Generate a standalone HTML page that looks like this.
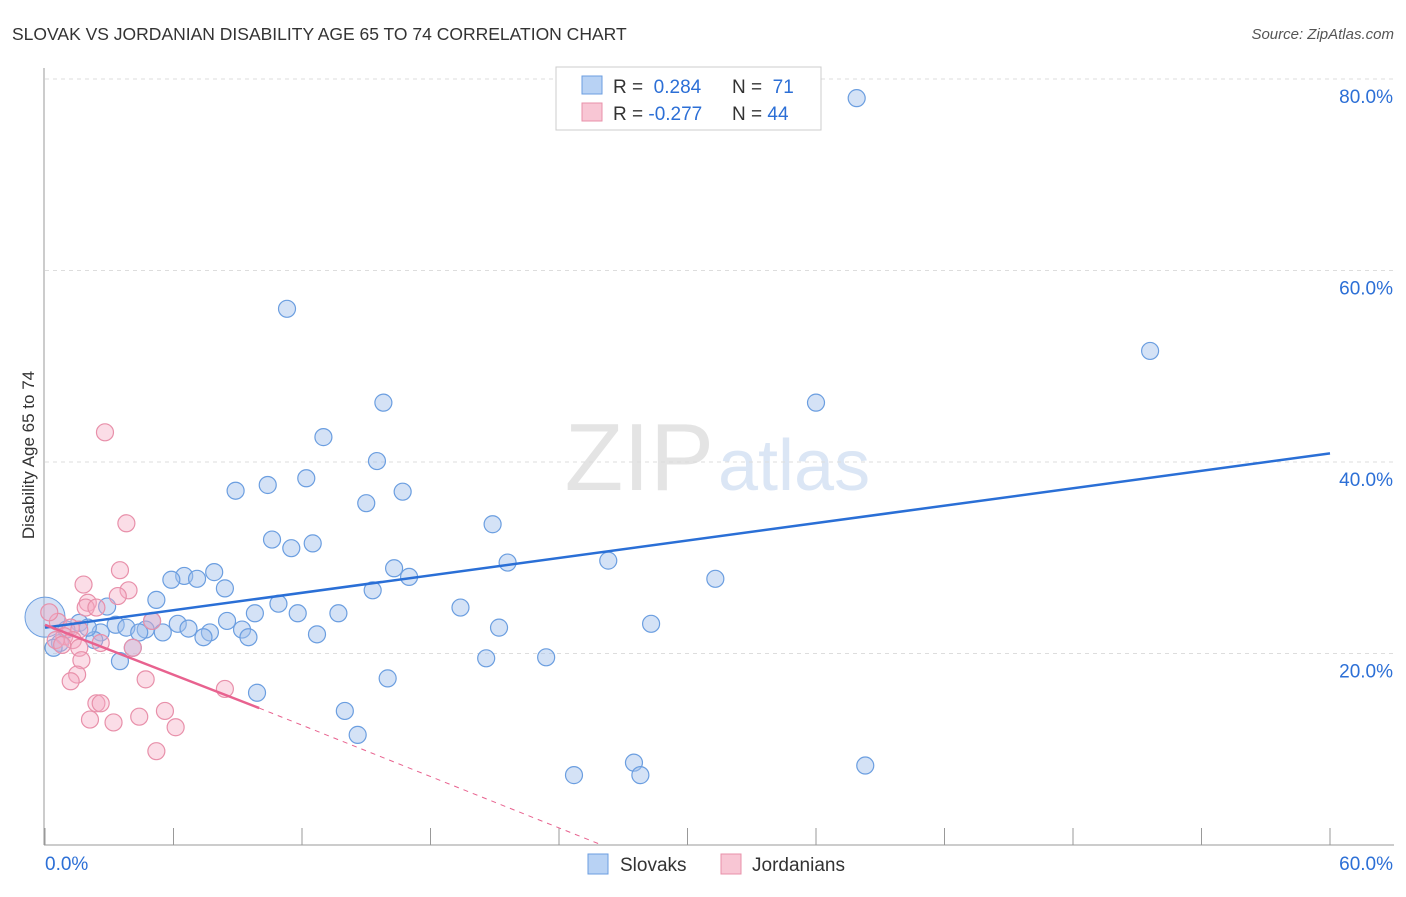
<!DOCTYPE html>
<html><head><meta charset="utf-8"><style>
body{margin:0;background:#fff;font-family:"Liberation Sans",sans-serif;}
svg text{font-family:"Liberation Sans",sans-serif;}
</style></head><body>
<svg width="1406" height="892">
<text x="12" y="40" font-size="17.5" fill="#333">SLOVAK VS JORDANIAN DISABILITY AGE 65 TO 74 CORRELATION CHART</text>
<text x="1394" y="39" font-size="15" fill="#555" font-style="italic" text-anchor="end">Source: ZipAtlas.com</text>
<text x="714" y="490" font-size="96" fill="#e4e4e4" font-family="Liberation Serif" text-anchor="end">ZIP</text>
<text x="718" y="490" font-size="72" fill="#dbe6f5">atlas</text>
<g id="grid"></g>
<g id="axes"></g>
<g id="marks"></g>
<text transform="translate(34,455) rotate(-90)" font-size="17" fill="#333" text-anchor="middle">Disability Age 65 to 74</text>
<g>
<rect x="556" y="67" width="265" height="63" fill="#fff" stroke="#ccc"/>
<rect x="582" y="76" width="20" height="18" fill="#b8d2f4" stroke="#6b9ee0"/>
<rect x="582" y="103" width="20" height="18" fill="#f8c6d4" stroke="#e890aa"/>
<text x="613" y="93" font-size="19" fill="#333">R = <tspan fill="#2c6fd6">&#160;0.284</tspan><tspan x="732">N = </tspan><tspan fill="#2c6fd6">&#160;71</tspan></text>
<text x="613" y="120" font-size="19" fill="#333">R = <tspan fill="#2c6fd6">-0.277</tspan><tspan x="732">N = </tspan><tspan fill="#2c6fd6">44</tspan></text>
</g>
<g>
<rect x="588" y="854" width="20" height="20" fill="#b8d2f4" stroke="#6b9ee0"/>
<text x="620" y="871" font-size="19" fill="#333">Slovaks</text>
<rect x="721" y="854" width="20" height="20" fill="#f8c6d4" stroke="#e890aa"/>
<text x="752" y="871" font-size="19" fill="#333">Jordanians</text>
</g>
</svg>
<script>
const xTicks=[0,6,12,18,24,30,36,42,48,54,60];
const xLabels=[0,60];
const yTicks=[20,40,60,80];
const slovakX=[37.9,11.3,51.6,36.0,15.8,13.0,15.5,12.2,10.4,8.9,16.7,15.0,20.9,10.6,12.5,11.5,26.3,21.6,16.3,17.0,31.3,7.9,6.5,5.9,7.1,8.4,15.3,5.2,10.9,2.9,19.4,11.8,9.8,13.7,5.0,8.5,6.2,1.6,28.3,6.7,3.3,3.8,4.7,21.2,7.7,9.2,5.5,4.4,12.7,2.6,7.4,9.5,2.3,0.7,0.4,4.1,20.6,23.4,3.5,16.0,9.9,14.0,14.6,24.7,27.5,27.8,38.3,2.0,1.0];
const slovakY=[78.0,56.0,51.6,46.2,46.2,42.6,40.1,38.3,37.6,37.0,36.9,35.7,33.5,31.9,31.5,31.0,29.7,29.5,28.9,28.0,27.8,28.5,28.1,27.7,27.8,26.8,26.6,25.6,25.2,24.9,24.8,24.2,24.2,24.2,23.4,23.4,23.1,23.2,23.1,22.6,23.0,22.7,22.5,22.7,22.2,22.5,22.2,22.2,22.0,22.2,21.7,21.7,21.4,21.1,20.6,20.6,19.5,19.6,19.2,17.4,15.9,14.0,11.5,7.3,8.6,7.3,8.3,22.7,22.5];
const jordX=[2.8,3.8,1.8,3.5,3.9,3.4,2.0,1.9,2.4,5.0,0.6,1.2,1.6,0.9,1.3,2.6,1.6,4.1,1.7,1.5,1.2,4.7,8.4,2.4,2.6,5.6,2.1,3.2,4.4,6.1,5.2,0.5,0.8,0.2];
const jordY=[43.1,33.6,27.2,28.7,26.6,26.0,25.3,24.8,24.8,23.4,23.3,22.7,22.5,21.8,21.4,21.1,20.6,20.6,19.3,17.8,17.1,17.3,16.3,14.8,14.8,14.0,13.1,12.8,13.4,12.3,9.8,21.4,20.9,24.3];
const blueTrend=[22.7,40.9];
const pinkTrend=[23.0,14.3,10.0,0];
const NS='http://www.w3.org/2000/svg';
const X=v=>45+v/60*1285, Y=v=>845-v*9.575;
function mk(tag,parent,at){const e=document.createElementNS(NS,tag);for(const k in at)e.setAttribute(k,at[k]);parent.appendChild(e);return e;}
const grid=document.getElementById('grid'),axes=document.getElementById('axes'),marks=document.getElementById('marks');
yTicks.forEach(t=>{
 const l=mk('line',grid,{x1:45,x2:1394,y1:Y(t),y2:Y(t),stroke:'#ddd','stroke-dasharray':'4,4'});
 
 
 const tx=mk('text',axes,{x:1393,y:Y(t)+24,'font-size':19,fill:'#2c6fd6','text-anchor':'end'});
 tx.textContent=t.toFixed(1)+'%';
 
 
});
const ax=mk('line',axes,{x1:44,x2:44,y1:68,y2:845,stroke:'#999'});


const bx=mk('line',axes,{x1:44,x2:1394,y1:845,y2:845,stroke:'#999'});


xTicks.forEach(t=>{
 const l=mk('line',axes,{x1:X(t),x2:X(t),y1:828,y2:845,stroke:'#999'});
 
 
});
xLabels.forEach(v=>{const tx=mk('text',axes,{x:v===0?45:1393,y:870,'font-size':19,fill:'#2c6fd6','text-anchor':v===0?'start':'end'});tx.textContent=v.toFixed(1)+'%';
 
 });
const big=mk('circle',marks,{cx:X(0),cy:Y(23.8),r:20,fill:'rgba(160,190,235,0.45)',stroke:'#6b9ee0'});


slovakX.forEach((v,i)=>{const c=mk('circle',marks,{cx:X(v),cy:Y(slovakY[i]),r:8.5,fill:'rgba(160,190,235,0.45)',stroke:'#6b9ee0','stroke-width':1.2});
 
 });
jordX.forEach((v,i)=>{const c=mk('circle',marks,{cx:X(v),cy:Y(jordY[i]),r:8.5,fill:'rgba(245,170,195,0.4)',stroke:'#e890aa','stroke-width':1.2});
 
 });
const bt=mk('line',marks,{x1:X(0),y1:Y(blueTrend[0]),x2:X(60),y2:Y(blueTrend[1]),stroke:'#2a6fd6','stroke-width':2.5});


const pt=mk('line',marks,{x1:X(0),y1:Y(pinkTrend[0]),x2:X(pinkTrend[2]),y2:Y(pinkTrend[1]),stroke:'#e8628f','stroke-width':2.5});


const pd=mk('line',marks,{x1:X(pinkTrend[2]),y1:Y(pinkTrend[1]),x2:X(26),y2:Y(pinkTrend[3]),stroke:'#e8628f','stroke-width':1,'stroke-dasharray':'5,5'});


</script>
</body></html>
